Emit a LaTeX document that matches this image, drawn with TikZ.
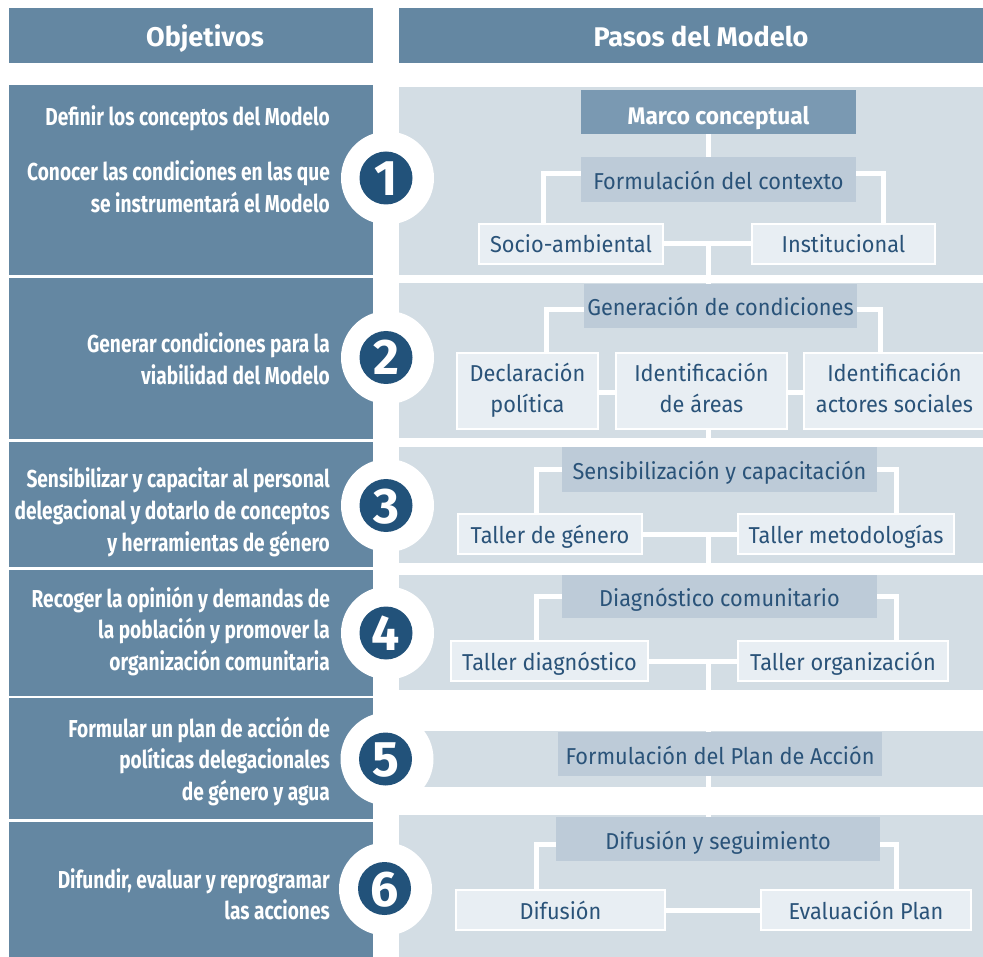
\documentclass[tikz,border=0pt]{standalone}
\usepackage{fontspec}
\setmainfont{Fira Sans}
\newfontfamily\leftfont{Fira Sans}[FakeStretch=0.78]
\newfontfamily\rightfont{Fira Sans}[FakeStretch=0.945]
\usetikzlibrary{calc}
\pgfdeclarelayer{back}
\pgfdeclarelayer{mid}
\pgfsetlayers{back,mid,main}
\definecolor{hdrc}{HTML}{6487A2}
\definecolor{panelc}{HTML}{D3DDE4}
\definecolor{marcoc}{HTML}{7A99B2}
\definecolor{lvtwoc}{HTML}{BDCBD8}
\definecolor{leafc}{HTML}{E8EEF3}
\definecolor{darkc}{HTML}{22527A}
\definecolor{txtc}{HTML}{2A5379}
\tikzset{
  conn/.style={draw=white, line width=5pt},
  hdrtxt/.style={text=white, inner sep=0pt, font=\fontsize{27}{30}\selectfont\bfseries, text height=20pt, text depth=0pt},
  lefttxt/.style={text=white, inner sep=0pt, font=\leftfont\fontsize{24.5}{31.5}\selectfont\bfseries},
  marcobox/.style={fill=marcoc, text=white, inner sep=0pt, font=\rightfont\fontsize{24}{30}\selectfont\bfseries, text height=26pt, text depth=0pt},
  lvtwo/.style={fill=lvtwoc, text=txtc, inner sep=0pt, font=\rightfont\fontsize{23}{31}\selectfont, text height=20pt, text depth=0pt},
  leafbox/.style={fill=leafc, draw=white, line width=2.5pt, text=txtc, inner sep=0pt, font=\rightfont\fontsize{23}{31}\selectfont, text height=18pt, text depth=0pt},
  leaftwo/.style={fill=leafc, draw=white, line width=2.5pt, text=txtc, inner sep=0pt, font=\rightfont\fontsize{23}{31}\selectfont, align=center},
  numc/.style={circle, fill=darkc, text=white, inner sep=0pt, minimum size=53pt, font=\fontsize{50}{50}\selectfont\bfseries, text height=35pt, text depth=0pt},
}
\begin{document}
\begin{tikzpicture}[x=1pt,y=-1pt]
\useasboundingbox (0,0) rectangle (983,957);
\coordinate (spine) at (708.5,0);
% ---------- background ----------
\begin{pgfonlayer}{back}
\fill[white] (0,0) rectangle (983,957);
\fill[hdrc] (9,8) rectangle (373,63);
\fill[hdrc] (399,8) rectangle (983,63);
% right panels
\fill[panelc] (399,87) rectangle (983,275);
\fill[panelc] (399,283) rectangle (983,438);
\fill[panelc] (399,447) rectangle (983,563);
\fill[panelc] (399,575) rectangle (983,690);
\fill[panelc] (399,731) rectangle (983,787);
\fill[panelc] (399,815) rectangle (983,957);
% left rows
\fill[hdrc] (9,85) rectangle (373,275);
\fill[hdrc] (9,278) rectangle (373,439);
\fill[hdrc] (9,442) rectangle (373,567);
\fill[hdrc] (9,570) rectangle (373,696);
\fill[hdrc] (9,698) rectangle (373,819);
\fill[hdrc] (9,822) rectangle (373,957);
% white rings
\fill[white] (387.5,178) circle (46.5);
\fill[white] (387.5,357.5) circle (46.5);
\fill[white] (387.5,505.5) circle (46.5);
\fill[white] (387.5,633) circle (46.5);
\fill[white] (387,759) circle (46.5);
\fill[white] (385.5,889) circle (46.5);
\end{pgfonlayer}
% ---------- headers ----------
\node[hdrtxt] (hobj) at (205,37) {Objetivos};
\node[hdrtxt] (hpas) at (701,37) {Pasos del Modelo};
% ---------- numbers ----------
\node[numc] (c1) at (386,178) {1};
\node[numc] (c2) at (386,357.5) {2};
\node[numc] (c3) at (386,505.5) {3};
\node[numc] (c4) at (386,633) {4};
\node[numc] (c5) at (385.5,759) {5};
\node[numc] (c6) at (384.5,888.5) {6};
% ---------- objectives ----------
\node[lefttxt, anchor=base east] (o1a) at (330,126) {Definir los conceptos del Modelo};
\node[lefttxt, anchor=base east] (o1b) at (330,181) {\begin{tabular}[t]{@{}r@{}}Conocer las condiciones en las que\\ se instrumentará el Modelo\end{tabular}};
\node[lefttxt, anchor=base east] (o2) at (330,353) {\begin{tabular}[t]{@{}r@{}}Generar condiciones para la\\ viabilidad del Modelo\end{tabular}};
\node[lefttxt, anchor=base east] (o3) at (330,488) {\begin{tabular}[t]{@{}r@{}}Sensibilizar y capacitar al personal\\ delegacional y dotarlo de conceptos\\ y herramientas de género\end{tabular}};
\node[lefttxt, anchor=base east] (o4) at (330,607) {\begin{tabular}[t]{@{}r@{}}Recoger la opinión y demandas de\\ la población y promover la\\ organización comunitaria\end{tabular}};
\node[lefttxt, anchor=base east] (o5) at (330,737) {\begin{tabular}[t]{@{}r@{}}Formular un plan de acción de\\ políticas delegacionales\\ de género y agua\end{tabular}};
\node[lefttxt, anchor=base east] (o6) at (330,888) {\begin{tabular}[t]{@{}r@{}}Difundir, evaluar y reprogramar\\ las acciones\end{tabular}};
% ---------- step 1 ----------
\node[marcobox, minimum width=275pt, minimum height=44pt] (marco) at (718.5,112) {Marco conceptual};
\node[lvtwo, minimum width=275pt, minimum height=45pt] (form) at (718.5,179.5) {Formulación del contexto};
\node[leafbox, minimum width=184pt, minimum height=40pt] (socio) at (571,244) {Socio-ambiental};
\node[leafbox, minimum width=183pt, minimum height=40pt] (inst) at (843.5,244) {Institucional};
% ---------- step 2 ----------
\node[lvtwo, minimum width=273pt, minimum height=44pt] (gen) at (720.5,306) {Generación de condiciones};
\node[leaftwo, minimum width=141pt, minimum height=76pt] (decl) at (527.5,391) {\begin{tabular}{@{}c@{}}Declaración\\ política\end{tabular}};
\node[leaftwo, minimum width=171pt, minimum height=76pt] (areas) at (701.5,391) {\begin{tabular}{@{}c@{}}Identificación\\ de áreas\end{tabular}};
\node[leaftwo, minimum width=181pt, minimum height=76pt] (actores) at (894.5,391) {\begin{tabular}{@{}c@{}}Identificación\\ actores sociales\end{tabular}};
% ---------- step 3 ----------
\node[lvtwo, minimum width=315pt, minimum height=45pt] (sens) at (719.5,469.5) {Sensibilización y capacitación};
\node[leafbox, minimum width=184pt, minimum height=40pt] (tgen) at (550,534) {Taller de género};
\node[leafbox, minimum width=216pt, minimum height=40pt] (tmet) at (846,534) {Taller metodologías};
% ---------- step 4 ----------
\node[lvtwo, minimum width=315pt, minimum height=43pt] (diag) at (719.5,596.5) {Diagnóstico comunitario};
\node[leafbox, minimum width=197pt, minimum height=40pt] (tdiag) at (549.5,661) {Taller diagnóstico};
\node[leafbox, minimum width=210pt, minimum height=40pt] (torg) at (843,661) {Taller organización};
% ---------- step 5 ----------
\node[lvtwo, minimum width=324pt, minimum height=44pt] (plan) at (720,754) {Formulación del Plan de Acción};
% ---------- step 6 ----------
\node[lvtwo, minimum width=324pt, minimum height=44pt] (difseg) at (718,839) {Difusión y seguimiento};
\node[leafbox, minimum width=209pt, minimum height=40pt] (dif) at (560.5,910) {Difusión};
\node[leafbox, minimum width=210pt, minimum height=40pt] (eval) at (866,910) {Evaluación Plan};
% ---------- connectors ----------
\begin{pgfonlayer}{mid}
\draw[conn] (marco.south -| spine) -- (form.north -| spine);
\draw[conn] ([yshift=5.5pt]form.west) -| ([xshift=66pt]socio.north west);
\draw[conn] ([yshift=5.5pt]form.east) -| ([xshift=-52.5pt]inst.north east);
\draw[conn] (socio.east) -- (inst.west);
\draw[conn] (socio.east -| spine) -- (gen.north -| spine);
\draw[conn] ([yshift=-4pt]gen.west) -| ([xshift=-53pt]decl.north east);
\draw[conn] ([yshift=-4pt]gen.east) -| ([xshift=78pt]actores.north west);
\draw[conn] ([yshift=-2pt]decl.east) -- ([yshift=-2pt]areas.west);
\draw[conn] ([yshift=-2pt]areas.east) -- ([yshift=-2pt]actores.west);
\draw[conn] (areas.south -| spine) -- (sens.north -| spine);
\draw[conn] (sens.west) -| ([xshift=79.5pt]tgen.north west);
\draw[conn] (sens.east) -| ([xshift=-59pt]tmet.north east);
\draw[conn] (tgen.east) -- (tmet.west);
\draw[conn] (tgen.east -| spine) -- (diag.north -| spine);
\draw[conn] (diag.west) -| ([xshift=86.5pt]tdiag.north west);
\draw[conn] (diag.east) -| ([xshift=-53pt]torg.north east);
\draw[conn] (tdiag.east) -- (torg.west);
\draw[conn] (tdiag.east -| spine) -- (plan.north -| spine);
\draw[conn] (plan.south -| spine) -- (difseg.north -| spine);
\draw[conn] ([yshift=-5pt]difseg.west) -| ([xshift=82pt]dif.north west);
\draw[conn] ([yshift=-5pt]difseg.east) -| ([xshift=-76pt]eval.north east);
\draw[conn] (dif.east) -- (eval.west);
\end{pgfonlayer}
\end{tikzpicture}
\end{document}
